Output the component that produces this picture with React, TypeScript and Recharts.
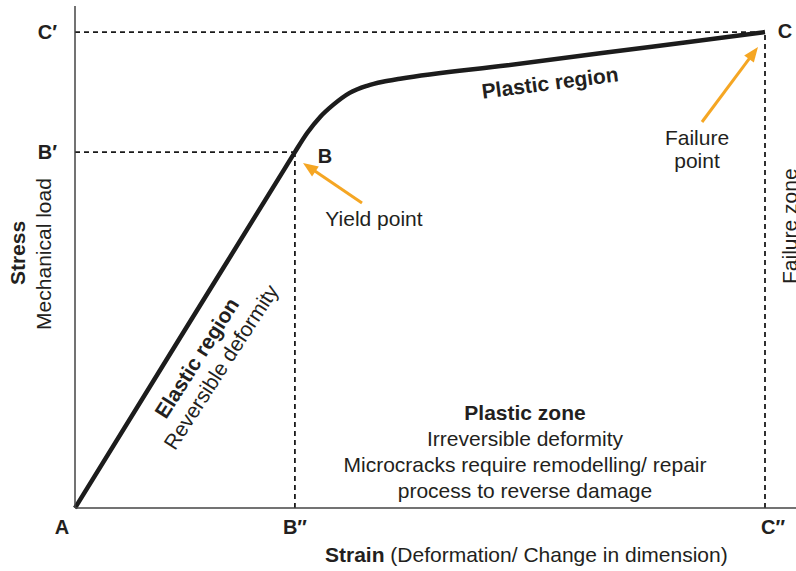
import React from 'react';
import { LineChart, Line, XAxis, YAxis, ReferenceLine } from 'recharts';

// Stress-strain curve, arbitrary units (0-100 on both axes)
const strain = [0, 15, 29, 30.5, 32.2, 34.0, 35.8, 38.1, 40.5, 42.7, 45.1, 60, 80, 95.7];
const stress = [0, 34.9, 67.4, 70.9, 74.7, 77.9, 80.3, 82.7, 84.1, 84.9, 85.5, 88.2, 91.9, 94.8];

// Key points: B = yield point, C = failure point
const strainTicks = [30.5, 95.7];
const strainTickLabels = ['B″', 'C″'];
const stressTicks = [70.9, 94.8];
const stressTickLabels = ['B′', 'C′'];

const data = strain.map((s, i) => ({ strain: s, stress: stress[i] }));

const FONT = '"Liberation Sans", Arial, Helvetica, sans-serif';
const INK = '#231f20';
const ORANGE = '#f5a623';

const Arrow = ({ x1, y1, x2, y2 }: { x1: number; y1: number; x2: number; y2: number }) => {
    const len = Math.hypot(x2 - x1, y2 - y1);
    const ux = (x2 - x1) / len;
    const uy = (y2 - y1) / len;
    const hl = 15;
    const hw = 6;
    const bx = x2 - ux * hl;
    const by = y2 - uy * hl;
    const pts = `${x2},${y2} ${bx - uy * hw},${by + ux * hw} ${bx + uy * hw},${by - ux * hw}`;
    return (
        <g>
            <line x1={x1} y1={y1} x2={bx + ux * 2} y2={by + uy * 2} stroke={ORANGE} strokeWidth={3} />
            <polygon points={pts} fill={ORANGE} />
        </g>
    );
};

const XTick = ({ x, y, payload }: any) => {
    const i = strainTicks.indexOf(payload.value);
    return (
        <text x={x + (i === 1 ? 8 : 0)} y={y} dy="0.71em" textAnchor="middle" fill={INK}
            fontSize={20} fontWeight="bold" fontFamily={FONT}>
            {strainTickLabels[i]}
        </text>
    );
};

const YTick = ({ x, y, payload }: any) => {
    const i = stressTicks.indexOf(payload.value);
    return (
        <text x={x} y={y} dy="0.355em" textAnchor="end" fill={INK}
            fontSize={20} fontWeight="bold" fontFamily={FONT}>
            {stressTickLabels[i]}
        </text>
    );
};

const dash = { stroke: '#1a1a1a', strokeWidth: 1.8, strokeDasharray: '5 4' };

export default function App() {
    return (
        <div style={{ position: 'absolute', left: 0, top: 0, width: 796, height: 571, background: '#fff', fontFamily: FONT }}>
            <LineChart width={796} height={571} data={data} margin={{ top: 6, right: 0, bottom: 62, left: 74 }}>
                <XAxis type="number" dataKey="strain" domain={[0, 100]} ticks={strainTicks} height={1}
                    tick={<XTick />} tickLine={false} tickSize={6} tickMargin={6}
                    axisLine={{ stroke: '#444', strokeWidth: 1.5 }} />
                <YAxis type="number" domain={[0, 100]} ticks={stressTicks} width={1}
                    tick={<YTick />} tickLine={false} tickSize={6} tickMargin={12}
                    axisLine={{ stroke: '#444', strokeWidth: 1.5 }} />

                {/* guide lines */}
                <ReferenceLine segment={[{ x: 0, y: stressTicks[1] }, { x: strainTicks[1], y: stressTicks[1] }]} {...dash} ifOverflow="visible" />
                <ReferenceLine segment={[{ x: 0, y: stressTicks[0] }, { x: strainTicks[0], y: stressTicks[0] }]} {...dash} ifOverflow="visible" />
                <ReferenceLine segment={[{ x: strainTicks[0], y: 0 }, { x: strainTicks[0], y: stressTicks[0] }]} {...dash} ifOverflow="visible" />
                <ReferenceLine segment={[{ x: strainTicks[1], y: 0 }, { x: strainTicks[1], y: stressTicks[1] }]} {...dash} ifOverflow="visible" />

                <Line type="monotone" dataKey="stress" stroke="#1c1c1c" strokeWidth={4.5} dot={false}
                    isAnimationActive={false} />

                {/* point labels */}
                <text x={62} y={534} textAnchor="middle" fontSize={20} fontWeight="bold" fill={INK} fontFamily={FONT}>A</text>
                <text x={325} y={163} textAnchor="middle" fontSize={20} fontWeight="bold" fill={INK} fontFamily={FONT}>B</text>
                <text x={785} y={38} textAnchor="middle" fontSize={20} fontWeight="bold" fill={INK} fontFamily={FONT}>C</text>

                {/* axis titles */}
                <text transform="translate(25,253) rotate(-90)" textAnchor="middle" fontSize={21} fontWeight="bold" fill={INK} fontFamily={FONT}>Stress</text>
                <text transform="translate(51,254) rotate(-90)" textAnchor="middle" fontSize={21} fill={INK} fontFamily={FONT}>Mechanical load</text>
                <text x={325} y={562} fontSize={21} fill={INK} fontFamily={FONT}>
                    <tspan fontWeight="bold">Strain</tspan> (Deformation/ Change in dimension)
                </text>

                {/* region labels */}
                <text transform="translate(551,90) rotate(-7.4)" textAnchor="middle" fontSize={21} fontWeight="bold" fill={INK} fontFamily={FONT}>Plastic region</text>
                <text transform="translate(203,362) rotate(-57.5)" textAnchor="middle" fontSize={21} fontWeight="bold" fill={INK} fontFamily={FONT}>Elastic region</text>
                <text transform="translate(227,371) rotate(-57)" textAnchor="middle" fontSize={21} fill={INK} fontFamily={FONT}>Reversible deformity</text>
                <text transform="translate(797,284) rotate(-90)" fontSize={21} fill={INK} fontFamily={FONT}>Failure zone</text>

                <text x={525} y={420} textAnchor="middle" fontSize={21} fontWeight="bold" fill={INK} fontFamily={FONT}>Plastic zone</text>
                <text x={525} y={446} textAnchor="middle" fontSize={21} fill={INK} fontFamily={FONT}>Irreversible deformity</text>
                <text x={525} y={472} textAnchor="middle" fontSize={21} fill={INK} fontFamily={FONT}>Microcracks require remodelling/ repair</text>
                <text x={525} y={498} textAnchor="middle" fontSize={21} fill={INK} fontFamily={FONT}>process to reverse damage</text>

                {/* annotations */}
                <text x={374} y={226} textAnchor="middle" fontSize={21} fill={INK} fontFamily={FONT}>Yield point</text>
                <text x={697} y={145} textAnchor="middle" fontSize={21} fill={INK} fontFamily={FONT}>Failure</text>
                <text x={697} y={168} textAnchor="middle" fontSize={21} fill={INK} fontFamily={FONT}>point</text>
                <Arrow x1={362} y1={203} x2={303} y2={163} />
                <Arrow x1={702} y1={122} x2={758} y2={47} />
            </LineChart>
        </div>
    );
}
